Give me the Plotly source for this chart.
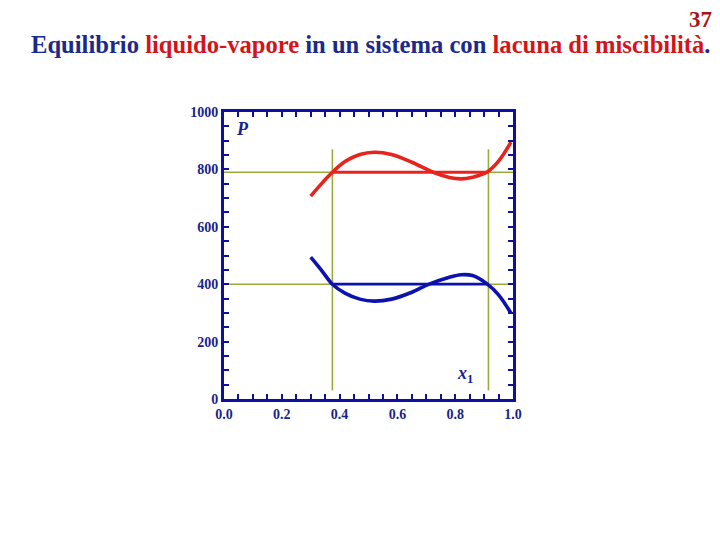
import plotly.graph_objects as go

# Data
liquid_x = [0.30, 0.34, 0.375, 0.42, 0.47, 0.52, 0.58, 0.65, 0.724, 0.78, 0.82, 0.86, 0.909, 0.95, 0.993]
liquid_y = [707, 753, 790, 828, 852, 860, 852, 825, 790, 772, 767, 773, 790, 829, 895]
vapour_x = [0.30, 0.34, 0.375, 0.42, 0.47, 0.52, 0.58, 0.65, 0.71, 0.78, 0.82, 0.86, 0.909, 0.95, 0.993]
vapour_y = [494, 445, 400, 368, 348, 341, 348, 372, 400, 424, 433, 430, 402, 363, 299]
tie_red_x = [0.375, 0.915]
tie_red_y = [790, 790]
tie_blue_x = [0.375, 0.915]
tie_blue_y = [400, 400]
guide_h_y = [790, 400]
guide_v_x = [0.375, 0.915]
guide_v_y = [30, 870]
x_ticks = [0.0, 0.2, 0.4, 0.6, 0.8, 1.0]
y_ticks = [0, 200, 400, 600, 800, 1000]

GREEN = "#9aab3c"
RED = "#e8231c"
BLUE = "#0c12b0"
NAVY = "#1a1f8a"
FRAME = "#1010a0"

fig = go.Figure()

for gy in guide_h_y:
    fig.add_trace(go.Scatter(x=[0, 1], y=[gy, gy], mode="lines",
                             line=dict(color=GREEN, width=1.6), hoverinfo="skip"))
for gx in guide_v_x:
    fig.add_trace(go.Scatter(x=[gx, gx], y=guide_v_y, mode="lines",
                             line=dict(color=GREEN, width=1.6), hoverinfo="skip"))

fig.add_trace(go.Scatter(x=tie_red_x, y=tie_red_y, mode="lines",
                         line=dict(color=RED, width=2.8)))
fig.add_trace(go.Scatter(x=tie_blue_x, y=tie_blue_y, mode="lines",
                         line=dict(color=BLUE, width=2.8)))
fig.add_trace(go.Scatter(x=liquid_x, y=liquid_y, mode="lines",
                         line=dict(color=RED, width=3.6, shape="spline", smoothing=1.0)))
fig.add_trace(go.Scatter(x=vapour_x, y=vapour_y, mode="lines",
                         line=dict(color=BLUE, width=3.6, shape="spline", smoothing=1.0)))

axis_font = dict(family="Liberation Serif", size=14, color=NAVY)
common = dict(showgrid=False, zeroline=False, showline=True, linecolor=FRAME,
              linewidth=3, mirror="ticks", ticks="inside", ticklen=5, tickwidth=2,
              tickcolor=FRAME, tickfont=axis_font)

fig.update_xaxes(range=[0, 1], tickvals=x_ticks,
                 ticktext=[f"<b>{v:.1f}</b>" for v in x_ticks],
                 minor=dict(ticks="inside", dtick=0.05, ticklen=5, tickwidth=2, tickcolor=FRAME),
                 **common)
fig.update_yaxes(range=[0, 1000], tickvals=y_ticks,
                 ticktext=[f"<b>{v}</b>" for v in y_ticks],
                 minor=dict(ticks="inside", dtick=50, ticklen=5, tickwidth=2, tickcolor=FRAME),
                 **common)

PX0, PY0, PW, PH = 224, 112, 289, 287

fig.update_layout(
    width=720, height=540,
    margin=dict(l=PX0, r=720 - PX0 - PW, t=PY0, b=540 - PY0 - PH),
    paper_bgcolor="white", plot_bgcolor="white",
    showlegend=False,
    annotations=[
        dict(text=("<b><span style='color:#1a2a8c'>Equilibrio </span>"
                   "<span style='color:#d41418'>liquido-vapore</span>"
                   "<span style='color:#1a2a8c'> in un sistema con </span>"
                   "<span style='color:#d41418'>lacuna di miscibilità</span>"
                   "<span style='color:#1a2a8c'>.</span></b>"),
             xref="paper", yref="paper", x=(370 - PX0) / PW, y=(PY0 + PH - 45) / PH,
             xanchor="center", yanchor="middle", showarrow=False,
             font=dict(family="Liberation Serif", size=24.6)),
        dict(text="<b>37</b>", xref="paper", yref="paper",
             x=(714 - PX0) / PW, y=(PY0 + PH - 19) / PH, xanchor="right", yanchor="middle",
             showarrow=False, font=dict(family="Liberation Serif", size=23, color="#a8141a")),
        dict(text="<b><i>P</i></b>", xref="paper", yref="paper",
             x=0.035, y=0.94, xanchor="left", yanchor="middle", showarrow=False,
             font=dict(family="Liberation Serif", size=18, color=NAVY)),
        dict(text="<b><i>x</i></b><sub><b>1</b></sub>", xref="paper", yref="paper",
             x=0.80, y=0.085, xanchor="left", yanchor="middle", showarrow=False,
             font=dict(family="Liberation Serif", size=18, color=NAVY)),
    ],
)

fig.write_html("out.html", config={"displayModeBar": False},
               post_script="document.body.style.margin='0';document.body.style.padding='0';")
